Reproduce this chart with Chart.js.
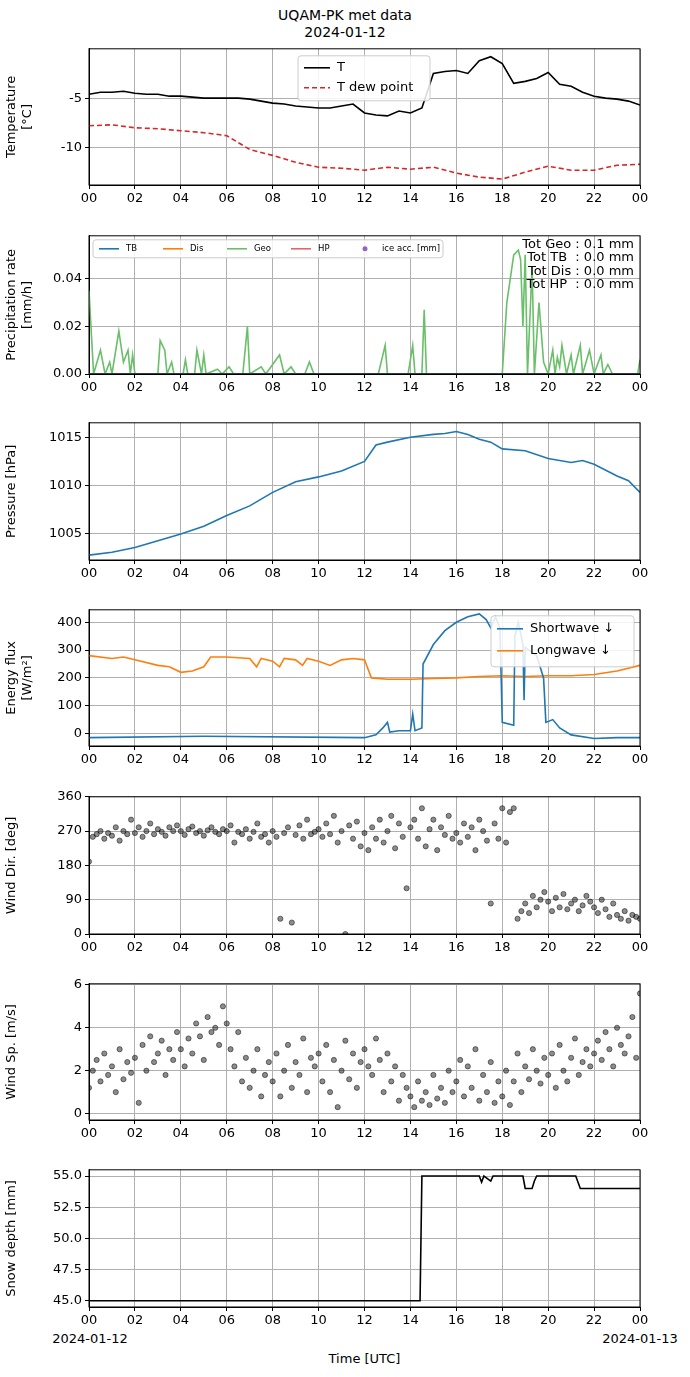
<!DOCTYPE html>
<html><head><meta charset="utf-8">
<script src="https://cdn.jsdelivr.net/npm/chart.js@4"></script>
<style>
body{margin:0;width:690px;height:1377px;background:#fff;position:relative;font-family:"DejaVu Sans",sans-serif;}
canvas{position:absolute;left:0;}
.t{position:absolute;font-size:14px;color:#000;text-align:center;}
</style></head><body>
<div class="t" style="left:0;width:690px;top:7px;line-height:17px;">UQAM-PK met data<br>2024-01-12</div>
<div class="t" style="left:40px;width:100px;top:1331px;font-size:13px;">2024-01-12</div>
<div class="t" style="left:590px;width:100px;top:1331px;font-size:13px;">2024-01-13</div>
<div class="t" style="left:0;width:729px;top:1351px;font-size:13px;">Time [UTC]</div>
<script>
// ---- data ----
const tempT = [0,0.5,1,1.5,2,2.5,3,3.5,4,4.5,5,5.5,6,6.5,7,7.5,8,8.5,9,9.5,10,10.5,11,11.5,12,12.5,13,13.5,14,14.5,15,15.5,16,16.5,17,17.5,18,18.5,19,19.5,20,20.5,21,21.5,22,22.5,23,23.5,24];
const tempV = [-4.6,-4.4,-4.4,-4.3,-4.5,-4.6,-4.6,-4.8,-4.8,-4.9,-5.0,-5.0,-5.0,-5.0,-5.1,-5.3,-5.5,-5.6,-5.8,-5.9,-6.0,-6.0,-5.8,-5.6,-6.5,-6.7,-6.8,-6.3,-6.5,-6.0,-2.5,-2.3,-2.2,-2.5,-1.2,-0.8,-1.5,-3.5,-3.3,-3.0,-2.4,-3.6,-3.8,-4.4,-4.8,-5.0,-5.1,-5.3,-5.7];
const dewT = [0,1,2,3,4,5,6,7,8,9,10,11,12,13,14,15,16,17,18,19,20,21,22,23,24];
const dewV = [-7.8,-7.7,-8.0,-8.1,-8.3,-8.5,-8.8,-10.2,-10.8,-11.5,-12.0,-12.1,-12.3,-12.0,-12.2,-12.0,-12.6,-13.0,-13.2,-12.5,-11.9,-12.3,-12.3,-11.8,-11.7];

const geoT = [0,0.2,0.5,0.7,0.9,1.0,1.3,1.5,1.7,1.8,1.9,2.0,3.0,3.1,3.3,3.4,3.6,3.7,4.1,4.2,4.3,4.6,4.7,4.9,5.0,5.1,5.6,5.8,6.1,6.3,6.7,6.9,7.0,7.5,7.7,8.3,8.5,8.8,9.0,9.4,9.6,9.8,12.6,12.8,12.9,13.0,13.9,14.1,14.2,14.5,14.6,14.7,18.0,18.2,18.35,18.5,18.7,18.8,18.9,19.0,19.1,19.3,19.4,19.6,19.8,20.0,20.2,20.3,20.4,20.5,20.6,20.8,21.0,21.1,21.4,21.5,21.8,22.0,22.3,22.4,22.6,22.8,23.9,24];
const geoV = [0.035,0,0.01,0,0.005,0,0.018,0.005,0.01,0,0.008,0,0,0.014,0.01,0,0.005,0,0,0.006,0,0,0.01,0,0.008,0,0.002,0,0.003,0,0,0.02,0,0.003,0,0.008,0,0.003,0,0,0.005,0,0,0.008,0.012,0,0,0.012,0,0,0.027,0,0,0.03,0.04,0.05,0.052,0.048,0.02,0.05,0,0.045,0,0.03,0.005,0,0.01,0,0.007,0.003,0.012,0,0.008,0,0.012,0,0.01,0,0.008,0,0.004,0,0,0.006];
const precipTotals = ["Tot Geo : 0.1 mm","Tot TB  : 0.0 mm","Tot Dis : 0.0 mm","Tot HP  : 0.0 mm"];

const presT = [0,1,2,3,4,5,6,7,8,9,10,11,12,12.5,13,14,15,15.5,16,16.5,17,17.5,18,19,20,21,21.5,22,23,23.5,24];
const presV = [1002.8,1003.1,1003.6,1004.3,1005.0,1005.8,1006.9,1007.9,1009.3,1010.4,1010.9,1011.5,1012.5,1014.2,1014.5,1015.0,1015.3,1015.4,1015.6,1015.3,1014.8,1014.5,1013.8,1013.6,1012.8,1012.4,1012.6,1012.2,1011.0,1010.5,1009.3];

const swT = [0,5,12,12.5,12.8,13,13.1,13.5,14,14.1,14.2,14.5,14.55,15,15.5,16,16.5,17,17.3,17.5,17.7,17.9,18,18.5,18.55,18.7,18.9,18.95,19.0,19.5,19.8,19.9,20.2,20.5,21,22,23,24];
const swV = [-15,-10,-15,-5,20,40,5,10,10,70,10,20,250,320,370,400,420,430,410,380,420,380,40,30,350,400,320,120,310,280,200,40,50,20,-5,-18,-15,-15];
const lwT = [0,1,1.5,2,3,3.5,4,4.5,5,5.3,6,7,7.3,7.5,8,8.3,8.5,9,9.3,9.5,10,10.5,11,11.5,12,12.3,13,14,15,16,17,18,19,20,21,22,23,24];
const lwV = [280,270,275,265,245,240,220,225,240,275,275,270,240,270,260,240,270,265,245,270,260,245,265,270,265,200,195,195,198,200,205,208,205,208,208,212,225,245];

// wind, one value every 10 min from 00 to 24
const windDir = [190,255,262,270,250,265,258,280,245,270,262,300,
265,280,255,270,290,262,275,268,258,280,270,285,
270,260,275,282,265,270,258,272,280,268,262,275,
270,285,240,268,262,275,250,268,290,255,262,240,
270,255,40,265,280,30,260,285,250,300,262,268,
275,255,290,262,310,240,270,0,285,250,295,230,
265,220,280,250,300,240,270,310,225,290,255,120,
280,300,250,330,230,275,300,220,280,260,310,250,
265,240,290,255,280,220,300,270,245,80,290,250,
330,240,320,330,40,60,80,55,100,70,90,110,
85,60,95,70,105,65,80,90,60,75,100,85,
70,55,90,65,45,80,50,40,60,35,50,45,40];
const windSp = [1.2,2.0,2.5,1.5,2.8,1.8,2.2,1.0,3.0,1.6,2.4,1.9,
2.6,0.5,3.2,2.0,3.6,2.4,2.8,3.4,1.8,3.0,2.5,3.8,
3.0,2.2,3.5,2.8,4.2,3.6,2.5,4.5,3.8,4.0,3.2,5.0,
4.2,3.0,2.2,3.8,1.5,2.6,1.2,2.0,3.0,0.8,1.8,2.4,
1.5,2.8,0.8,2.0,3.2,1.2,2.4,1.8,3.5,1.0,2.6,2.2,
2.8,1.5,3.2,1.0,2.5,0.3,2.0,3.4,1.6,2.8,1.2,2.4,
3.0,2.2,1.8,3.5,2.5,1.0,2.8,1.5,2.2,0.6,1.8,1.2,
0.8,0.3,1.5,0.6,1.0,0.4,1.8,0.7,1.2,0.5,2.0,1.0,
1.5,2.5,0.8,2.2,1.2,3.0,0.6,1.8,1.0,2.4,0.5,1.5,
0.8,2.0,0.4,1.5,2.8,1.0,2.2,1.6,3.0,2.0,1.4,2.6,
1.8,2.8,1.2,3.2,2.0,1.5,2.6,3.5,1.8,2.4,3.0,2.2,
2.8,3.4,2.5,3.8,3.0,2.2,4.0,3.2,2.8,3.6,4.5,2.6,5.6];

const snowT = [0,14.42,14.5,17.0,17.1,17.2,17.5,17.6,18.9,19.0,19.3,19.4,19.5,21.2,21.3,21.4,24];
const snowV = [45,45,55,55,54.5,55,54.6,55,55,54,54,54.6,55,55,54.5,54,54];

const xTicks = [0,2,4,6,8,10,12,14,16,18,20,22,24];

// ---- helpers ----
const FONT = {family:"DejaVu Sans", size:13};
Chart.defaults.font = FONT;
Chart.defaults.color = '#000';
Chart.defaults.animation = false;
const pts = (t, v) => t.map((x, i) => ({x: x, y: v[i]}));
const every10 = v => v.map((y, i) => ({x: i / 6, y: y}));
const fixTicks = list => s => { s.ticks = list.map(v => ({value: v})); };

const frame = {
  id: 'frame',
  afterDraw(c) {
    const a = c.chartArea, g = c.ctx;
    g.save(); g.strokeStyle = '#000'; g.lineWidth = 1;
    g.strokeRect(a.left, a.top, a.right - a.left, a.bottom - a.top);
    g.restore();
  }
};
const textBox = lines => ({
  id: 'textBox',
  afterDraw(c) {
    const a = c.chartArea, g = c.ctx;
    g.save(); g.font = '13px "DejaVu Sans"'; g.textAlign = 'right'; g.fillStyle = '#000';
    lines.forEach((l, i) => g.fillText(l, a.right - 6, a.top + 12 + i * 13.5));
    g.restore();
  }
});
// matplotlib-style legend drawn inside the plot: box in px relative to chart area
const boxLegend = (items, x, y, w, h, opts) => ({
  id: 'boxLegend',
  afterDraw(c) {
    const a = c.chartArea, g = c.ctx, o = opts;
    g.save();
    g.fillStyle = 'rgba(255,255,255,0.85)'; g.strokeStyle = '#ccc'; g.lineWidth = 1;
    g.beginPath(); g.roundRect(a.left + x, a.top + y, w, h, 3); g.fill(); g.stroke();
    g.font = o.size + 'px "DejaVu Sans"'; g.fillStyle = '#000'; g.textBaseline = 'middle';
    items.forEach((it, i) => {
      const lx = a.left + x + 6 + (o.horiz ? i * o.step : 0);
      const ly = a.top + y + o.first + (o.horiz ? 0 : i * o.step);
      if (it.dot) {
        g.fillStyle = it.color; g.beginPath(); g.arc(lx + o.len / 2, ly, 2.5, 0, 7); g.fill();
      } else {
        g.strokeStyle = it.color; g.lineWidth = 1.6; g.setLineDash(it.dash || []);
        g.beginPath(); g.moveTo(lx, ly); g.lineTo(lx + o.len, ly); g.stroke(); g.setLineDash([]);
      }
      g.fillStyle = '#000'; g.fillText(it.label, lx + o.len + 7, ly);
    });
    g.restore();
  }
});

function panel(top, bottom, datasets, y, extraPlugins) {
  const cv = document.createElement('canvas');
  const h = bottom - top + 35;
  cv.style.top = (top - 6) + 'px';
  cv.style.width = '690px'; cv.style.height = h + 'px';
  cv.width = 690; cv.height = h;
  document.body.appendChild(cv);
  new Chart(cv, {
    type: 'line',
    data: {datasets: datasets},
    options: {
      responsive: false,
      layout: {padding: {left: 0, right: 50, top: 6, bottom: 0}},
      plugins: {legend: {display: false}, tooltip: {enabled: false}},
      scales: {
        x: {
          type: 'linear', min: 0, max: 24,
          afterBuildTicks: fixTicks(xTicks),
          afterFit: s => { s.height = 29; },
          ticks: {callback: v => String(v % 24).padStart(2, '0'), maxRotation: 0, padding: 2},
          grid: {color: '#b0b0b0', tickLength: 4, tickColor: '#000'},
          border: {color: '#000'}
        },
        y: Object.assign({
          afterFit: s => { s.width = 89; },
          grid: {color: '#b0b0b0', tickLength: 4, tickColor: '#000'},
          border: {color: '#000'}
        }, y)
      }
    },
    plugins: [frame].concat(extraPlugins || [])
  });
}
const line = (data, color, extra) => Object.assign({data: data, borderColor: color, backgroundColor: color, borderWidth: 1.6, pointRadius: 0, tension: 0}, extra || {});
const dots = data => ({data: data, showLine: false, pointRadius: 2.6, pointBorderWidth: 0.8,
  pointBackgroundColor: 'rgba(0,0,0,0.45)', pointBorderColor: 'rgba(0,0,0,0.6)'});
const title = t => ({display: true, text: t, font: FONT, padding: 4});

// 1 temperature
panel(44, 185, [
  line(pts(tempT, tempV), '#000'),
  line(pts(dewT, dewV), '#d62728', {borderDash: [5, 3]})
], {min: -13.8, max: 0, afterBuildTicks: fixTicks([-10, -5]), title: title(['Temperature', '[°C]'])},
 [boxLegend([{label: 'T', color: '#000'}, {label: 'T dew point', color: '#d62728', dash: [5, 3]}],
   209, 7, 132, 45, {size: 13, horiz: false, step: 20, first: 12, len: 26})]);

// 2 precipitation
const zero = [{x: 0, y: 0}, {x: 24, y: 0}];
panel(231, 374, [
  line(zero, '#1f77b4'),
  line(zero, '#ff7f0e'),
  line(pts(geoT, geoV), '#6abf69'),
  line(zero, '#e8636a')
], {min: 0, max: 0.058, afterBuildTicks: fixTicks([0, 0.02, 0.04]), ticks: {callback: v => v.toFixed(2)}, title: title(['Precipitation rate', '[mm/h]'])},
 [boxLegend([{label: 'TB', color: '#1f77b4'}, {label: 'Dis', color: '#ff7f0e'}, {label: 'Geo', color: '#6abf69'},
   {label: 'HP', color: '#e8636a'}, {label: 'ice acc. [mm]', color: '#9467bd', dot: true}],
   4, 4, 350, 18, {size: 8.5, horiz: true, step: 64, first: 9, len: 20}),
  textBox(precipTotals)]);

// 3 pressure
panel(418, 560, [line(pts(presT, presV), '#1f77b4')],
  {min: 1002.3, max: 1016.5, afterBuildTicks: fixTicks([1005, 1010, 1015]), ticks: {callback: v => String(v)}, title: title('Pressure [hPa]')});

// 4 energy flux
panel(605, 746, [
  line(pts(swT, swV), '#1f77b4'),
  line(pts(lwT, lwV), '#ff7f0e')
], {min: -45, max: 445, afterBuildTicks: fixTicks([0, 100, 200, 300, 400]), title: title(['Energy flux', '[W/m²]'])},
 [boxLegend([{label: 'Shortwave ↓', color: '#1f77b4'}, {label: 'Longwave ↓', color: '#ff7f0e'}],
   402, 6, 143, 51, {size: 13, horiz: false, step: 22, first: 13, len: 26})]);

// 5 wind direction
panel(792, 934, [dots(every10(windDir))],
  {min: 0, max: 360, afterBuildTicks: fixTicks([0, 90, 180, 270, 360]), title: title('Wind Dir. [deg]')});

// 6 wind speed
panel(979, 1120, [dots(every10(windSp))],
  {min: -0.3, max: 6.05, afterBuildTicks: fixTicks([0, 2, 4, 6]), title: title('Wind Sp. [m/s]')});

// 7 snow depth
panel(1165, 1307, [line(pts(snowT, snowV), '#000')],
  {min: 44.5, max: 55.5, afterBuildTicks: fixTicks([45, 47.5, 50, 52.5, 55]),
   ticks: {callback: v => v.toFixed(1)}, title: title('Snow depth [mm]')});
</script>
</body></html>
